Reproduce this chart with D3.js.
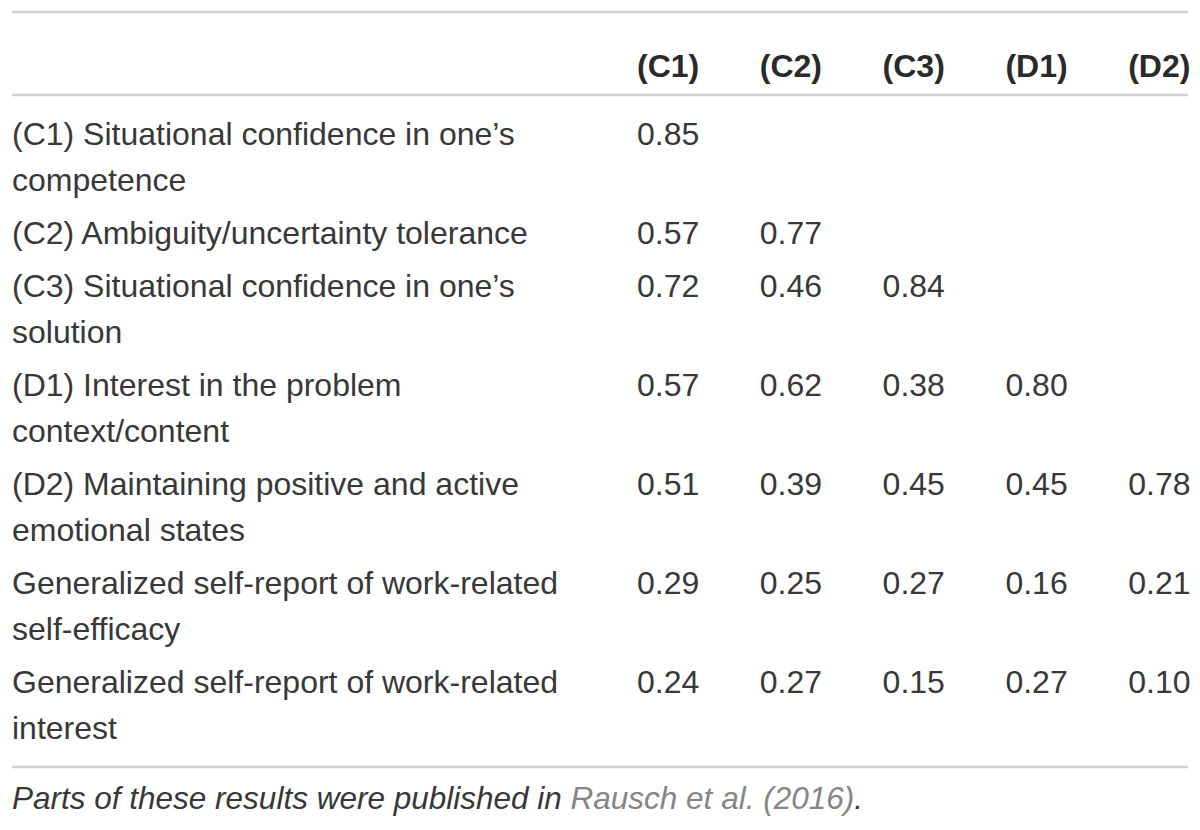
<!DOCTYPE html>
<html>
<head>
<meta charset="utf-8">
<script src="https://cdn.jsdelivr.net/npm/d3@7"></script>
<style>
  html, body { margin: 0; padding: 0; background: #fff; }
  svg { display: block; }
</style>
</head>
<body>
<svg id="chart" width="1200" height="830"></svg>
<script>
// Table content
var columns = ['(C1)', '(C2)', '(C3)', '(D1)', '(D2)'];

var rowLabels = [
    ['(C1) Situational confidence in one\u2019s', 'competence'],
    ['(C2) Ambiguity/uncertainty tolerance'],
    ['(C3) Situational confidence in one\u2019s', 'solution'],
    ['(D1) Interest in the problem', 'context/content'],
    ['(D2) Maintaining positive and active', 'emotional states'],
    ['Generalized self-report of work-related', 'self-efficacy'],
    ['Generalized self-report of work-related', 'interest'],
];

var c1 = ['0.85', '0.57', '0.72', '0.57', '0.51', '0.29', '0.24'];
var c2 = [null, '0.77', '0.46', '0.62', '0.39', '0.25', '0.27'];
var c3 = [null, null, '0.84', '0.38', '0.45', '0.27', '0.15'];
var d1 = [null, null, null, '0.80', '0.45', '0.16', '0.27'];
var d2 = [null, null, null, null, '0.78', '0.21', '0.10'];

var noteText = 'Parts of these results were published in ';
var noteRef = 'Rausch et al. (2016)';

var values = [c1, c2, c3, d1, d2];

var left = 12;
var right = 1188;
var fontSize = 32;
var lineStep = 46;
var rowGap = 7;
var ink = '#383838';

var svg = d3.select('#chart');

// column positions
var x = d3.scaleBand()
    .domain(columns)
    .range([637, 1251])
    .align(0);

// rows: stack line counts, then shift to first row
var rowTop = [];
var acc = 0;
rowLabels.forEach((lines) => {
    rowTop.push(acc);
    acc += lines.length * lineStep + rowGap;
});
var y = d3.scaleLinear().domain([0, acc]).range([133, 133 + acc]);

var font = '"Liberation Sans", Arial, Helvetica, sans-serif';

// rules
var rules = [12, 95, 767];
svg.selectAll('line.rule')
    .data(rules)
    .enter()
    .append('line')
    .attr('class', 'rule')
    .attr('x1', left)
    .attr('x2', right)
    .attr('y1', (d) => d)
    .attr('y2', (d) => d)
    .attr('stroke', '#cfcfcf')
    .attr('stroke-width', 2.5);

// header
svg.selectAll('text.head')
    .data(columns)
    .enter()
    .append('text')
    .attr('class', 'head')
    .attr('x', (d) => x(d))
    .attr('y', 65)
    .attr('dy', '0.36em')
    .attr('font-family', font)
    .attr('font-size', fontSize)
    .attr('font-weight', 'bold')
    .attr('fill', '#2a2a2a')
    .text((d) => d);

// row labels
var rows = svg.selectAll('g.row')
    .data(rowLabels)
    .enter()
    .append('g')
    .attr('class', 'row')
    .attr('transform', (d, i) => `translate(0,${y(rowTop[i])})`);

rows.selectAll('text')
    .data((d) => d)
    .enter()
    .append('text')
    .attr('x', left)
    .attr('y', (d, j) => j * lineStep)
    .attr('dy', '0.36em')
    .attr('font-family', font)
    .attr('font-size', fontSize)
    .attr('fill', ink)
    .text((d) => d);

// cells
columns.forEach((col, ci) => {
    rows.append('text')
        .attr('x', x(col))
        .attr('y', 0)
        .attr('dy', '0.36em')
        .attr('font-family', font)
        .attr('font-size', fontSize)
        .attr('fill', ink)
        .text((d, ri) => values[ci][ri] || '');
});

// footnote
var note = svg.append('text')
    .attr('x', left)
    .attr('y', 798)
    .attr('dy', '0.36em')
    .attr('font-family', font)
    .attr('font-size', 31.5)
    .attr('font-style', 'italic')
    .attr('fill', ink);
note.append('tspan').text(noteText);
note.append('tspan').attr('fill', '#858585').text(noteRef);
note.append('tspan').text('.');
</script>
</body>
</html>
